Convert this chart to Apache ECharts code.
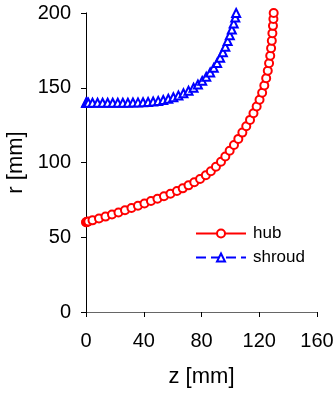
<!DOCTYPE html>
<html>
<head>
<meta charset="utf-8">
<script src="https://cdn.jsdelivr.net/npm/echarts@6/dist/echarts.min.js"></script>
<style>
html,body{margin:0;padding:0;background:#fff;}
#chart{width:335px;height:393px;}
</style>
</head>
<body>
<div id="chart"></div>
<script>
// hub curve: axial position z [mm] and radius r [mm]
const hubZ = [0, 0.3, 0.8, 1.6, 4.5, 9, 13.5, 18, 22.5, 27, 31.5, 36, 40.5, 45, 49.5, 54, 58.5, 63, 67, 71, 75, 79, 83, 86.5, 90, 93.5, 96.5, 99.5, 102.5, 105.5, 108.3, 111, 113.6, 116, 118.2, 120.2, 122, 123.5, 124.8, 125.9, 126.8, 127.6, 128.2, 128.7, 129.1, 129.5, 129.8, 130];
const hubR = [60, 60.1, 60.3, 60.5, 61.3, 62.5, 63.8, 65.2, 66.6, 68.1, 69.6, 71.1, 72.6, 74.2, 75.8, 77.4, 79.1, 80.9, 82.7, 84.7, 86.8, 89.0, 91.5, 94.2, 97.2, 100.5, 104.0, 107.8, 111.7, 115.8, 120.0, 124.2, 128.5, 132.9, 137.4, 142.0, 146.7, 151.5, 156.4, 161.4, 166.4, 171.4, 176.4, 181.4, 186.4, 191.4, 196.0, 200];
// shroud curve
const shroudZ = [0, 0.3, 0.8, 1.6, 4.5, 8, 11.5, 15, 18.5, 22, 25.5, 29, 32.5, 36, 39.5, 43, 46.5, 50, 53.5, 57, 60.5, 64, 67.5, 71, 74.5, 77.5, 80.5, 83.3, 86, 88.5, 90.8, 92.9, 94.8, 96.5, 98.1, 99.6, 101, 102.3, 103.4, 104];
const shroudR = [140, 140, 140, 140, 140, 140, 140, 140, 140, 140, 140, 140, 140.1, 140.2, 140.3, 140.5, 140.8, 141.2, 141.8, 142.6, 143.6, 144.8, 146.3, 148.0, 150.0, 152.2, 154.6, 157.3, 160.2, 163.3, 166.6, 170.1, 173.7, 177.4, 181.2, 185.1, 189.0, 193.0, 197.0, 200];
// axes
const xTicks = [0, 40, 80, 120, 160];
const yTicks = [0, 50, 100, 150, 200];
const xName = 'z [mm]';
const yName = 'r [mm]';
const seriesNames = ['hub', 'shroud'];

const pairs = (a, b) => a.map((v, i) => [v, b[i]]);
const font = 'Liberation Sans, Arial, sans-serif';

const chart = echarts.init(document.getElementById('chart'), null, {renderer: 'canvas'});
chart.setOption({
  animation: false,
  backgroundColor: '#fff',
  grid: {left: 86, right: 18, top: 13, bottom: 81, containLabel: false, outerBoundsMode: 'none'},
  legend: {
    orient: 'vertical',
    left: 190,
    top: 220,
    itemWidth: 50,
    itemHeight: 10,
    itemGap: 7,
    textStyle: {fontFamily: font, fontSize: 17, color: '#000', padding: [0, 0, 0, 2]},
    data: seriesNames
  },
  xAxis: [{
    type: 'value', min: xTicks[0], max: xTicks[xTicks.length - 1], interval: xTicks[1] - xTicks[0],
    name: xName, nameLocation: 'middle', nameGap: 54,
    nameTextStyle: {fontFamily: font, fontSize: 22, color: '#000'},
    axisLine: {show: true, onZero: false, lineStyle: {color: '#000', width: 1}},
    axisTick: {show: true, inside: false, length: 5, lineStyle: {color: '#000'}},
    axisLabel: {fontFamily: font, fontSize: 20, color: '#000', margin: 19},
    splitLine: {show: false}
  }, {
    type: 'value', position: 'top', min: 0, max: 160,
    axisLine: {show: true, lineStyle: {color: '#666', width: 1}},
    axisTick: {show: false}, axisLabel: {show: false}, splitLine: {show: false}
  }],
  yAxis: [{
    type: 'value', min: yTicks[0], max: yTicks[yTicks.length - 1], interval: yTicks[1] - yTicks[0],
    name: yName, nameLocation: 'middle', nameGap: 50,
    nameTextStyle: {fontFamily: font, fontSize: 22, color: '#000'},
    axisLine: {show: true, onZero: false, lineStyle: {color: '#888', width: 1}},
    axisTick: {show: true, inside: false, length: 5, lineStyle: {color: '#000'}},
    axisLabel: {fontFamily: font, fontSize: 20, color: '#000', margin: 15},
    splitLine: {show: false}
  }, {
    type: 'value', position: 'right', min: 0, max: 200,
    axisLine: {show: true, lineStyle: {color: '#000', width: 1}},
    axisTick: {show: false}, axisLabel: {show: false}, splitLine: {show: false}
  }],
  series: [{
    name: seriesNames[0], type: 'line', data: pairs(hubZ, hubR),
    symbol: 'emptyCircle', symbolSize: 8, showAllSymbol: true,
    lineStyle: {color: '#ff0000', width: 1},
    itemStyle: {color: '#ff0000', borderColor: '#ff0000', borderWidth: 1}
  }, {
    name: seriesNames[1], type: 'line', data: pairs(shroudZ, shroudR),
    symbol: 'emptyTriangle', symbolSize: 8, showAllSymbol: true,
    lineStyle: {color: '#0000ff', width: 1, type: [10, 5]},
    itemStyle: {color: '#0000ff', borderColor: '#0000ff', borderWidth: 1}
  }]
});
</script>
</body>
</html>
